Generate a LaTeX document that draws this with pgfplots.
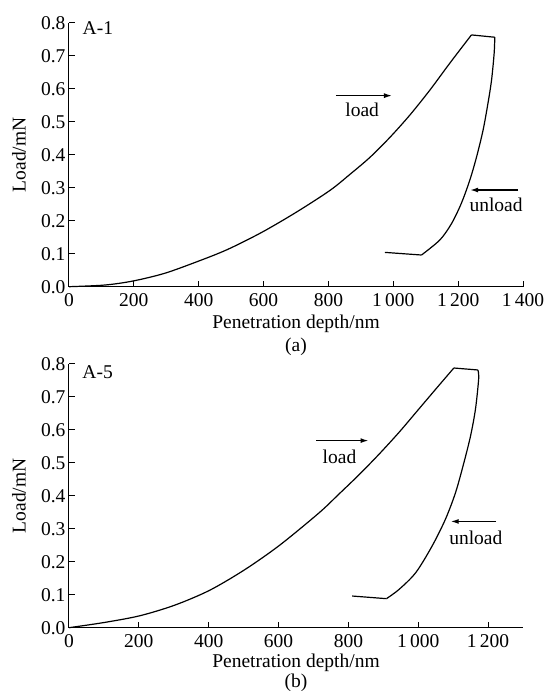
\documentclass[border=0pt]{standalone}
\usepackage{pgfplots}
\pgfplotsset{compat=1.18}
\usepackage{fontspec}
\setmainfont{Liberation Serif}
\usetikzlibrary{arrows.meta}
\begin{document}
\begin{tikzpicture}[font=\fontsize{19.5}{22}\selectfont]
\useasboundingbox (-69pt,286.7pt) rectangle (479pt,-404.3pt);
\pgfplotsset{
  panel/.style={
    scale only axis, width=454pt, height=264pt,
    axis lines*=left, enlargelimits=false,
    axis line style={line width=1pt},
    tick align=inside, major tick length=6pt,
    every tick/.style={black, line width=1pt},
    ymin=0, ymax=0.8, ytick={0,0.1,...,0.8},
    yticklabel style={/pgf/number format/fixed,/pgf/number format/fixed zerofill,/pgf/number format/precision=1},
    /pgf/number format/assume math mode=true,
    xticklabel style={yshift=-3pt},
    xlabel={Penetration depth/nm}, ylabel={Load/mN},
    every axis x label/.style={at={(axis description cs:0.5,0)}, anchor=center, yshift=-37pt},
    every axis y label/.style={at={(axis description cs:0,0.5)}, xshift=-50pt, rotate=90, anchor=center},
    clip=false,
  },
  curve/.style={black, line width=1.2pt, no markers},
}
\begin{axis}[panel, at={(0,0)}, xmin=0, xmax=1400,
  xtick={0,200,400,600,800,1000,1200,1400},
  xticklabels={0,200,400,600,800,1\,000,1\,200,1\,400}]
\addplot[curve, smooth, tension=0.5] coordinates {
(0,0) (110,0.005) (196,0.017) (293,0.040) (390,0.074) (487,0.112) (595,0.165)
(703,0.227) (805,0.292) (867,0.341) (928,0.392) (990,0.453) (1051,0.520)
(1113,0.596) (1174,0.677) (1241,0.763)};
\addplot[curve] coordinates {(1241,0.763) (1313,0.756)};
\addplot[curve, smooth, tension=0.5] coordinates {
(1313,0.756) (1311,0.707) (1303,0.626) (1292,0.556) (1277,0.475) (1257,0.394)
(1236,0.323) (1210,0.253) (1180,0.192) (1144,0.142) (1087,0.096)};
\addplot[curve] coordinates {(1087,0.096) (974,0.104)};
\node at (axis cs:89,0.783) {A-1};
\draw[line width=1.3pt, -{Latex[length=8pt,width=5pt]}] (axis cs:823,0.579) -- (axis cs:996,0.579);
\node at (axis cs:904,0.535) {load};
\draw[line width=1.3pt, -{Latex[length=8pt,width=5pt]}] (axis cs:1385,0.293) -- (axis cs:1237,0.293);
\node at (axis cs:1317,0.2476) {unload};
\node at (axis description cs:0.5,0) [yshift=-60pt] {(a)};
\end{axis}
\begin{axis}[panel, at={(0,-341pt)}, xmin=0, xmax=1300,
  xtick={0,200,400,600,800,1000,1200},
  xticklabels={0,200,400,600,800,1\,000,1\,200},
  every axis x label/.style={at={(axis description cs:0.5,0)}, anchor=center, yshift=-35.5pt}]
\addplot[curve, smooth, tension=0.5] coordinates {
(0,0) (102,0.016) (202,0.036) (302,0.068) (402,0.113) (502,0.175) (602,0.249)
(716,0.348) (773,0.405) (831,0.464) (888,0.526) (945,0.592) (1002,0.663)
(1059,0.734) (1102,0.787)};
\addplot[curve] coordinates {(1102,0.787) (1171,0.781)};
\addplot[curve, smooth, tension=0.5] coordinates {
(1171,0.781) (1173,0.754) (1164,0.663) (1150,0.582) (1131,0.501) (1107,0.410)
(1078,0.329) (1040,0.248) (993,0.167) (945,0.116) (909,0.088)};
\addplot[curve] coordinates {(909,0.088) (811,0.096)};
\node at (axis cs:82,0.773) {A-5};
\draw[line width=1.3pt, -{Latex[length=8pt,width=5pt]}] (axis cs:707.6,0.567) -- (axis cs:857.6,0.567);
\node at (axis cs:774.6,0.519) {load};
\draw[line width=1.3pt, -{Latex[length=8pt,width=5pt]}] (axis cs:1223,0.322) -- (axis cs:1093,0.322);
\node at (axis cs:1165,0.2715) {unload};
\node at (axis description cs:0.5,0) [yshift=-55pt] {(b)};
\end{axis}
\end{tikzpicture}
\end{document}
